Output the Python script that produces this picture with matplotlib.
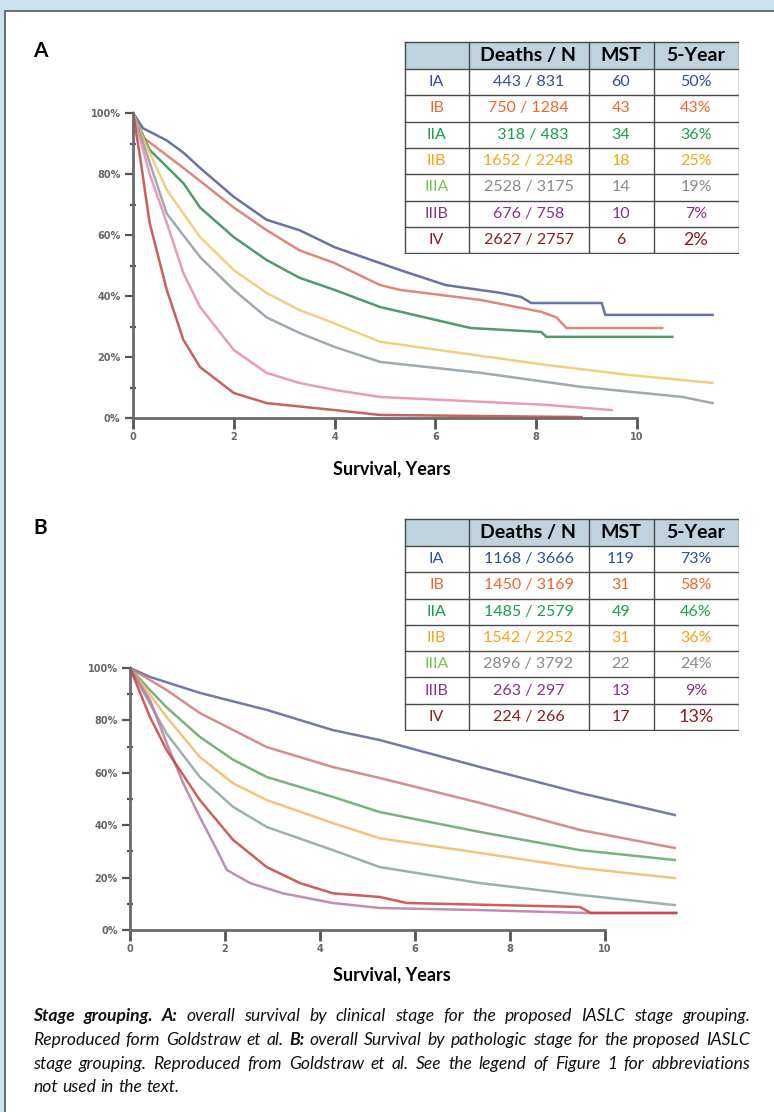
import matplotlib
matplotlib.use("Agg")
import matplotlib.pyplot as plt
from matplotlib import font_manager
from matplotlib.patches import Rectangle
from matplotlib.ticker import MultipleLocator

W, H = 774, 1112

names = {f.name for f in font_manager.fontManager.ttflist}
NARROW = 'Liberation Sans Narrow' if 'Liberation Sans Narrow' in names else 'Lato'
SANS = 'Lato' if 'Lato' in names else 'DejaVu Sans'

stages = ['IA', 'IB', 'IIA', 'IIB', 'IIIA', 'IIIB', 'IV']

# table values, panel A (clinical) and panel B (pathologic)
a_deaths = ['443 / 831', '750 / 1284', '  318 / 483', '1652 / 2248', '2528 / 3175', '676 / 758', '2627 / 2757']
a_mst = ['60', '43', '34', '18', '14', '10', '6']
a_5yr = ['50%', '43%', '36%', '25%', '19%', '7%', '2%']

b_deaths = ['1168 / 3666', '1450 / 3169', '1485 / 2579', '1542 / 2252', '2896 / 3792', '263 / 297', '224 / 266']
b_mst = ['119', '31', '49', '31', '22', '13', '17']
b_5yr = ['73%', '58%', '46%', '36%', '24%', '9%', '13%']

# survival curves (years, % surviving)
a_years = {
    'IA':   [0, 0.2, 0.67, 1.0, 1.33, 2, 2.65, 3.3, 4, 4.9, 5.3, 6.2, 7.3, 7.7, 7.9, 9.3, 9.37, 11.5],
    'IB':   [0, 0.2, 1.0, 2, 2.65, 3.3, 4, 4.9, 5.3, 6.9, 8.1, 8.4, 8.6, 10.5],
    'IIA':  [0, 0.33, 1.0, 1.33, 2, 2.65, 3.3, 4, 4.9, 6.7, 8.1, 8.2, 10.7],
    'IIB':  [0, 0.3, 0.67, 1.33, 2, 2.65, 3.3, 4, 4.9, 6.5, 8.2, 9.9, 11.5],
    'IIIA': [0, 0.67, 1.33, 2, 2.65, 3.3, 4, 4.9, 6.9, 8.9, 10.9, 11.5],
    'IIIB': [0, 0.33, 0.67, 1.0, 1.33, 2, 2.65, 3.3, 4, 4.9, 8.2, 9.5],
    'IV':   [0, 0.14, 0.33, 0.67, 1.0, 1.33, 2, 2.65, 4, 4.9, 8.9],
}
a_surv = {
    'IA':   [100, 95, 91, 87, 82, 72.5, 65, 61.6, 56, 50.8, 48.5, 43.6, 41, 39.7, 37.7, 37.7, 33.8, 33.8],
    'IB':   [100, 92, 82, 69, 61.6, 55, 50.8, 43.6, 42, 38.7, 34.8, 33, 29.5, 29.5],
    'IIA':  [100, 87.9, 77, 69, 59.3, 51.8, 46, 42, 36.4, 29.5, 28.2, 26.6, 26.6],
    'IIB':  [100, 88, 74.8, 59.3, 48.5, 41, 35.4, 31, 25, 21.3, 17.4, 14, 11.5],
    'IIIA': [100, 67, 52.8, 42, 33, 27.9, 23.3, 18.4, 14.8, 10.2, 6.9, 4.9],
    'IIIB': [100, 80, 64, 47.5, 36.4, 22.3, 14.8, 11.5, 9.2, 6.9, 4.3, 2.6],
    'IV':   [100, 85.6, 64, 42, 25.6, 16.7, 8.2, 4.9, 2.6, 1, 0.3],
}
b_years = {
    'IA':   [0, 0.42, 1.47, 2.88, 4.27, 5.26, 7.37, 9.47, 11.47],
    'IB':   [0, 0.77, 1.47, 2.88, 4.27, 5.26, 7.37, 9.47, 11.47],
    'IIA':  [0, 0.42, 0.77, 1.47, 2.17, 2.88, 4.27, 5.26, 7.37, 9.47, 11.47],
    'IIB':  [0, 0.77, 1.47, 2.17, 2.88, 4.27, 5.26, 7.37, 9.47, 11.47],
    'IIIA': [0, 0.77, 1.47, 2.17, 2.88, 4.27, 5.26, 7.37, 9.47, 11.47],
    'IIIB': [0, 0.42, 0.77, 1.12, 1.47, 1.83, 2.04, 2.53, 3.22, 4.27, 5.26, 7.37, 9.6, 11.5],
    'IV':   [0, 0.42, 0.77, 1.47, 2.17, 2.88, 3.58, 4.27, 5.26, 5.83, 9.47, 9.7, 11.5],
}
b_surv = {
    'IA':   [100, 96.6, 90.5, 84, 76.3, 72.5, 62.2, 52.3, 43.9],
    'IB':   [100, 91.6, 82.8, 69.8, 62.2, 58, 48.5, 38.2, 31.3],
    'IIA':  [100, 91.6, 85, 73.7, 65, 58.4, 50.8, 45, 37.4, 30.5, 26.7],
    'IIB':  [100, 81.3, 66, 56, 49.6, 40.8, 35, 29.4, 23.7, 19.8],
    'IIIA': [100, 75, 58.4, 47, 39.3, 30.5, 24, 17.9, 13.4, 9.5],
    'IIIB': [100, 87.8, 71.4, 56, 43.1, 30.5, 22.9, 17.9, 14, 10.3, 8.4, 7.6, 6.5, 6.5],
    'IV':   [100, 81.3, 68.7, 49.6, 34.4, 24, 17.9, 14, 12.6, 10.3, 8.8, 6.5, 6.5],
}

y_ticks = [0, 20, 40, 60, 80, 100]
y_labels = ['0%', '20%', '40%', '60%', '80%', '100%']
x_ticks = [0, 2, 4, 6, 8, 10]

line_a = ['#4f5b93', '#d9745f', '#2f8a55', '#f2c66b', '#8d9ba3', '#e38bb0', '#c0443f']
line_b = ['#5a6495', '#d07872', '#5fa766', '#f0b868', '#8aa3a3', '#b57aa5', '#c8403c']
label_col = ['#2e4f9f', '#f0662a', '#16a04a', '#f7a31c', '#7dc24a', '#8b2f8e', '#8e1b1b']
value_col = ['#2e4f9f', '#f0662a', '#16a04a', '#f7a31c', '#8a8a8a', '#8b2f8e', '#8e1b1b']

fig = plt.figure(figsize=(W / 100, H / 100), dpi=100, facecolor='#c9e2eb')

# white panel behind everything
fig.patches.append(Rectangle((5 / W, -0.01), 1.0, 1 - 11 / H + 0.01, transform=fig.transFigure,
                             facecolor='white', edgecolor='#555555', lw=1.2, zorder=-5))


def km_axes(box, px_per_year, x0_px, y0_px, y100_px, years, surv, colors):
    left, top, right, bottom = box
    ax = fig.add_axes([left / W, 1 - bottom / H, (right - left) / W, (bottom - top) / H])
    ax.patch.set_alpha(0)
    ppp = (y0_px - y100_px) / 100.0
    ax.set_xlim((left - x0_px) / px_per_year, (right - x0_px) / px_per_year)
    ax.set_ylim(-(bottom - y0_px) / ppp, 100 + (y100_px - top) / ppp)
    for k, st in enumerate(stages):
        ax.plot(years[st], surv[st], color=colors[k], lw=1.8, alpha=0.85, solid_joinstyle='round')
    for s in ['top', 'right']:
        ax.spines[s].set_visible(False)
    ax.spines['left'].set_position(('data', 0))
    ax.spines['bottom'].set_position(('data', 0))
    ax.spines['left'].set_bounds(0, 100)
    ax.spines['bottom'].set_bounds(0, 10)
    for s in ['left', 'bottom']:
        ax.spines[s].set_color('#6b6b6b')
        ax.spines[s].set_linewidth(2)
    ax.set_yticks(y_ticks)
    ax.set_yticklabels(y_labels)
    ax.yaxis.set_minor_locator(MultipleLocator(10))
    ax.set_xticks(x_ticks)
    ax.tick_params(axis='y', which='major', direction='out', length=6, width=1.6, color='#555555',
                   labelsize=7, labelcolor='#666666', pad=3)
    ax.tick_params(axis='y', which='minor', direction='inout', length=4, width=1.6, color='#555555')
    ax.tick_params(axis='x', which='major', direction='out', length=8, width=2, color='#555555',
                   labelsize=7, labelcolor='#666666', pad=2)
    for t in ax.get_xticklabels() + ax.get_yticklabels():
        t.set_fontweight('bold')
    return ax


km_axes((133, 100, 733, 430), 50.4, 133, 418, 113, a_years, a_surv, line_a)
km_axes((130, 655, 700, 942), 47.5, 130, 930, 668, b_years, b_surv, line_b)

fig.text(392 / W, 1 - 469 / H, 'Survival, Years', ha='center', va='center', fontsize=13,
         fontweight='bold', family=SANS)
fig.text(392 / W, 1 - 975 / H, 'Survival, Years', ha='center', va='center', fontsize=13,
         fontweight='bold', family=SANS)
fig.text(40 / W, 1 - 51 / H, 'A', ha='center', va='center', fontsize=15, fontweight='bold', family=SANS)
fig.text(40 / W, 1 - 528 / H, 'B', ha='center', va='center', fontsize=15, fontweight='bold', family=SANS)

if NARROW == 'Liberation Sans Narrow':
    head_fs, cell_fs = 15, 13
else:
    head_fs, cell_fs = 14, 11.5


def draw_table(top, deaths, mst, five):
    xe = [404, 468, 588, 653, 738]
    head_h, row_h = 27, 26.3
    bottom = top + head_h + 7 * row_h
    tax = fig.add_axes([xe[0] / W, 1 - (bottom + 1) / H, (xe[-1] - xe[0] + 1) / W, (bottom - top + 2) / H])
    tax.set_xlim(xe[0] - 0.5, xe[-1] + 0.5)
    tax.set_ylim(bottom + 1, top - 1)
    tax.axis('off')
    tax.add_patch(Rectangle((xe[0], top), xe[-1] - xe[0], head_h, facecolor='#bfd3dc', edgecolor='none'))
    edges_y = [top, top + head_h] + [top + head_h + (i + 1) * row_h for i in range(7)]
    for y in edges_y:
        tax.plot([xe[0], xe[-1]], [y, y], color='#4a4a4a', lw=1)
    for x in xe:
        tax.plot([x, x], [top, bottom], color='#4a4a4a', lw=1)
    cx = [(xe[i] + xe[i + 1]) / 2 for i in range(4)]
    hy = top + head_h / 2
    for c, s in zip(cx[1:], ['Deaths / N', 'MST', '5-Year']):
        tax.text(c, hy, s, ha='center', va='center', fontsize=head_fs, fontweight='bold', family=NARROW)
    for i in range(7):
        ry = top + head_h + (i + 0.5) * row_h
        tax.text(cx[0], ry, stages[i], ha='center', va='center', fontsize=cell_fs, color=label_col[i],
                 family=NARROW)
        tax.text(cx[1], ry, deaths[i], ha='center', va='center', fontsize=cell_fs, color=value_col[i],
                 family=NARROW)
        tax.text(cx[2], ry, mst[i], ha='center', va='center', fontsize=cell_fs, color=value_col[i],
                 family=NARROW)
        fs = cell_fs + 1.5 if i == 6 else cell_fs
        tax.text(cx[3], ry, five[i], ha='center', va='center', fontsize=fs, color=value_col[i],
                 family=NARROW)


draw_table(42, a_deaths, a_mst, a_5yr)
draw_table(519, b_deaths, b_mst, b_5yr)

# caption, justified like the printed text
cap_lines = [
    '**Stage** **grouping.** **A:** overall survival by clinical stage for the proposed IASLC stage grouping.',
    'Reproduced form Goldstraw et al. **B:** overall Survival by pathologic stage for the proposed IASLC',
    'stage grouping. Reproduced from Goldstraw et al. See the legend of Figure 1 for abbreviations',
    'not used in the text.',
]
cap_base = [1021, 1045, 1069, 1092]
cap_fs = 12.6
renderer = fig.canvas.get_renderer()
for li, (line, yb) in enumerate(zip(cap_lines, cap_base)):
    words = line.split(' ')
    texts = []
    for w in words:
        bold = w.startswith('**')
        w = w.strip('*')
        t = fig.text(0, 1 - yb / H, w, fontsize=cap_fs, style='italic', family=SANS,
                     fontweight='bold' if bold else 'normal', va='baseline', ha='left', color='#111111')
        texts.append(t)
    widths = [t.get_window_extent(renderer).width for t in texts]
    if li < len(cap_lines) - 1:
        gap = (750 - 33 - sum(widths)) / (len(words) - 1)
    else:
        gap = cap_fs * 100 / 72 * 0.26
    x = 33
    for t, w in zip(texts, widths):
        t.set_x(x / W)
        x += w + gap

fig.savefig('out.png', dpi=100, facecolor=fig.get_facecolor())
